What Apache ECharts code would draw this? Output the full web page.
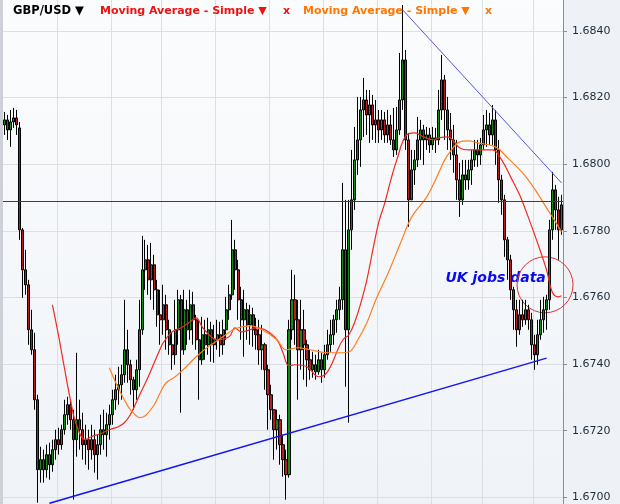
<!DOCTYPE html>
<html><head><meta charset="utf-8">
<script src="https://cdn.jsdelivr.net/npm/echarts@6/dist/echarts.min.js"></script>
<style>html,body{margin:0;padding:0;background:#eef1f5}#c{width:620px;height:504px}</style>
</head><body><div id="c"></div>
<script>
const opens = [1.68118,1.68133,1.68103,1.68127,1.68139,1.68109,1.67803,1.67683,1.67638,1.67503,
1.67443,1.67293,1.67083,1.67113,1.67083,1.67128,1.67098,1.67143,1.67173,1.67158,
1.67203,1.67248,1.67278,1.67233,1.67173,1.67233,1.67203,1.67158,1.67173,1.67143,
1.67173,1.67128,1.67158,1.67203,1.67188,1.67218,1.67248,1.67293,1.67323,1.67338,
1.67368,1.67443,1.67398,1.67353,1.67323,1.67383,1.67503,1.67683,1.67713,1.67653,
1.67698,1.67623,1.67548,1.67533,1.67578,1.67503,1.67458,1.67428,1.67503,1.67593,
1.67443,1.67563,1.67503,1.67578,1.67533,1.67473,1.67413,1.67488,1.67458,1.67503,
1.67458,1.67473,1.67488,1.67458,1.67503,1.67563,1.67608,1.67743,1.67683,1.67593,
1.67533,1.67563,1.67518,1.67548,1.67503,1.67488,1.67443,1.67458,1.67383,1.67308,
1.67263,1.67203,1.67233,1.67158,1.67113,1.67068,1.67503,1.67593,1.67533,1.67443,
1.67503,1.67458,1.67413,1.67383,1.67398,1.67377,1.67413,1.67383,1.67428,1.67458,
1.67488,1.67533,1.67563,1.67593,1.67743,1.67503,1.67803,1.67893,1.68013,1.68073,
1.68163,1.68193,1.68148,1.68178,1.68118,1.68133,1.68103,1.68133,1.68088,1.68118,
1.68073,1.68043,1.68103,1.68193,1.68313,1.68073,1.67893,1.67983,1.68013,1.68073,
1.68103,1.68073,1.68088,1.68058,1.68079,1.68073,1.68163,1.68253,1.68163,1.68103,
1.68073,1.68028,1.67953,1.67893,1.67968,1.67953,1.67983,1.68013,1.68043,1.68028,
1.68058,1.68103,1.68118,1.68088,1.68133,1.68043,1.67953,1.67893,1.67773,1.67713,
1.67623,1.67563,1.67503,1.67548,1.67533,1.67563,1.67533,1.67458,1.67428,1.67488,
1.67533,1.67563,1.67593,1.67803,1.67923,1.67863,1.67803];
const closes = [1.68133,1.68103,1.68127,1.68139,1.68118,1.67803,1.67683,1.67638,1.67503,1.67443,
1.67293,1.67083,1.67113,1.67083,1.67128,1.67098,1.67143,1.67173,1.67158,1.67203,
1.67248,1.67278,1.67233,1.67173,1.67233,1.67203,1.67158,1.67173,1.67143,1.67173,
1.67128,1.67158,1.67203,1.67188,1.67218,1.67248,1.67293,1.67323,1.67338,1.67368,
1.67443,1.67398,1.67353,1.67323,1.67383,1.67503,1.67683,1.67713,1.67653,1.67698,
1.67623,1.67548,1.67533,1.67578,1.67503,1.67458,1.67428,1.67503,1.67593,1.67443,
1.67563,1.67503,1.67578,1.67533,1.67473,1.67413,1.67488,1.67458,1.67503,1.67458,
1.67473,1.67488,1.67458,1.67503,1.67563,1.67608,1.67743,1.67683,1.67593,1.67533,
1.67563,1.67518,1.67548,1.67503,1.67488,1.67443,1.67458,1.67383,1.67308,1.67263,
1.67203,1.67233,1.67158,1.67113,1.67068,1.67503,1.67593,1.67533,1.67443,1.67503,
1.67458,1.67413,1.67383,1.67398,1.67377,1.67413,1.67383,1.67428,1.67458,1.67488,
1.67533,1.67563,1.67593,1.67743,1.67503,1.67803,1.67893,1.68013,1.68073,1.68163,
1.68193,1.68148,1.68178,1.68118,1.68133,1.68103,1.68133,1.68088,1.68118,1.68073,
1.68043,1.68103,1.68193,1.68313,1.68073,1.67893,1.67983,1.68013,1.68073,1.68103,
1.68073,1.68088,1.68058,1.68079,1.68073,1.68163,1.68253,1.68163,1.68103,1.68073,
1.68028,1.67953,1.67893,1.67968,1.67953,1.67983,1.68013,1.68043,1.68028,1.68058,
1.68103,1.68118,1.68088,1.68133,1.68043,1.67953,1.67893,1.67773,1.67713,1.67623,
1.67563,1.67503,1.67548,1.67533,1.67563,1.67533,1.67458,1.67428,1.67488,1.67533,
1.67563,1.67593,1.67803,1.67923,1.67863,1.67803,1.67878];
const lows = [1.68088,1.68073,1.68052,1.68109,1.68088,1.67773,1.67599,1.67608,1.67458,1.67428,
1.67263,1.66984,1.67044,1.67044,1.67059,1.67053,1.67077,1.67113,1.67128,1.67143,
1.67188,1.67218,1.67203,1.66993,1.67122,1.67143,1.67113,1.67098,1.67083,1.67113,
1.67074,1.67053,1.67128,1.67143,1.67122,1.67173,1.67218,1.67263,1.67278,1.67293,
1.67344,1.67344,1.67308,1.67263,1.67293,1.67332,1.67488,1.67623,1.67608,1.67593,
1.67563,1.67512,1.67458,1.67488,1.67443,1.67428,1.67383,1.67398,1.67458,1.67254,
1.67428,1.67458,1.67473,1.67458,1.67443,1.67293,1.67398,1.67413,1.67428,1.67407,
1.67404,1.67443,1.67422,1.67428,1.67473,1.67533,1.67593,1.67623,1.67533,1.67473,
1.67422,1.67473,1.67458,1.67452,1.67443,1.67398,1.67383,1.67323,1.67203,1.67233,
1.67113,1.67143,1.67098,1.67062,1.66993,1.67059,1.67473,1.67458,1.67293,1.67383,
1.67353,1.67332,1.67353,1.67359,1.67353,1.67368,1.67344,1.67359,1.67413,1.67437,
1.67458,1.67494,1.67533,1.67563,1.67332,1.67224,1.67743,1.67863,1.67968,1.67992,
1.68082,1.68088,1.68064,1.68073,1.68064,1.68064,1.68073,1.68064,1.68064,1.68058,
1.68022,1.68028,1.68088,1.68163,1.68043,1.67812,1.67893,1.67938,1.67992,1.68013,
1.67998,1.68043,1.68034,1.68043,1.68034,1.68058,1.68133,1.68073,1.68043,1.68013,
1.67974,1.67893,1.67842,1.67878,1.67923,1.67923,1.67938,1.67992,1.67992,1.67998,
1.68043,1.68052,1.68058,1.68058,1.67998,1.67884,1.67848,1.67722,1.67653,1.67593,
1.67503,1.67452,1.67488,1.67512,1.67518,1.67503,1.67413,1.67383,1.67398,1.67473,
1.67494,1.67503,1.67563,1.67773,1.67803,1.67713,1.67788];
const highs = [1.68157,1.68148,1.68163,1.68169,1.68163,1.68127,1.67809,1.67743,1.67653,1.67563,
1.67494,1.67308,1.67152,1.67143,1.67158,1.67164,1.67173,1.67203,1.67209,1.67218,
1.67293,1.67302,1.67293,1.67263,1.67434,1.67293,1.67254,1.67218,1.67203,1.67218,
1.67203,1.67188,1.67248,1.67263,1.67254,1.67278,1.67323,1.67368,1.67392,1.67398,
1.67593,1.67503,1.67413,1.67362,1.67413,1.67593,1.67785,1.67773,1.67758,1.67764,
1.67728,1.67653,1.67623,1.67638,1.67608,1.67533,1.67494,1.67593,1.67623,1.67608,
1.67623,1.67593,1.67623,1.67617,1.67548,1.67533,1.67542,1.67533,1.67539,1.67527,
1.67518,1.67533,1.67527,1.67533,1.67602,1.67638,1.67833,1.67773,1.67713,1.67632,
1.67623,1.67584,1.67578,1.67569,1.67539,1.67533,1.67518,1.67464,1.67398,1.67338,
1.67263,1.67263,1.67248,1.67188,1.67143,1.67533,1.67683,1.67668,1.67593,1.67593,
1.67563,1.67473,1.67443,1.67437,1.67428,1.67443,1.67434,1.67458,1.67503,1.67533,
1.67548,1.67593,1.67632,1.67944,1.67893,1.67893,1.68043,1.68112,1.68202,1.68202,
1.68259,1.68223,1.68223,1.68208,1.68193,1.68163,1.68163,1.68157,1.68163,1.68148,
1.68169,1.68172,1.68334,1.68478,1.68343,1.68094,1.68043,1.68043,1.68142,1.68133,
1.68118,1.68112,1.68109,1.68112,1.68109,1.68223,1.68328,1.68268,1.68202,1.68154,
1.68118,1.68073,1.68004,1.68013,1.68013,1.68013,1.68043,1.68073,1.68073,1.68079,
1.68148,1.68163,1.68154,1.68178,1.68163,1.68073,1.67968,1.67908,1.67782,1.67728,
1.67632,1.67593,1.67593,1.67593,1.67593,1.67578,1.67554,1.67488,1.67533,1.67593,
1.67602,1.67608,1.67833,1.67977,1.67938,1.67902,1.67908];

const yTicks = [1.6700,1.6720,1.6740,1.6760,1.6780,1.6800,1.6820,1.6840];
const maRed = [[16,1.67578],[18,1.67488],[20,1.67389],[22,1.67293],[24,1.67218],[27,1.67173],[29,1.67182],[32,1.67191],[35,1.67203],[38,1.67212],[40,1.67224],[42,1.67248],[45,1.67305],[48,1.67362],[52,1.67446],[53,1.67464],[56,1.67497],[59,1.67509],[62,1.67527],[64,1.67539],[66,1.67512],[69,1.67482],[71,1.67473],[75,1.67482],[77,1.67509],[79,1.67497],[82,1.67503],[84,1.67509],[87,1.67503],[91,1.67473],[93,1.67434],[95,1.67395],[97,1.67398],[101,1.67392],[105,1.67362],[107,1.67368],[109,1.67395],[111,1.67437],[113,1.67473],[115,1.67488],[117,1.67527],[119,1.67584],[121,1.67653],[123,1.67743],[125,1.67827],[127,1.67884],[129,1.67953],[131,1.68013],[134,1.68085],[137,1.68094],[140,1.68082],[143,1.68073],[145,1.68079],[148,1.68082],[152,1.68049],[155,1.68043],[160,1.68043],[163,1.68043],[166,1.68013],[169,1.67962],[172,1.67908],[174,1.67863],[178,1.67764],[181,1.67683],[183,1.67614],[185,1.67602],[186,1.67605]];
const maOrange = [[35,1.67389],[37,1.67347],[38,1.67329],[40,1.67293],[42,1.67263],[44,1.67245],[45,1.67239],[47,1.67245],[50,1.67278],[52,1.67314],[54,1.67344],[57,1.67362],[60,1.67386],[62,1.67404],[64,1.67422],[68,1.67452],[73,1.67482],[77,1.67506],[82,1.67515],[86,1.67503],[91,1.67473],[94,1.67443],[98,1.67449],[102,1.67443],[108,1.67434],[112,1.67434],[115,1.67437],[118,1.67473],[121,1.67524],[124,1.67593],[128,1.67671],[132,1.67758],[136,1.67842],[141,1.67902],[145,1.67974],[147,1.68013],[149,1.68040],[152,1.68067],[155,1.68070],[158,1.68064],[164,1.68052],[168,1.68019],[173,1.67974],[177,1.67926],[181,1.67869],[184,1.67827],[186,1.67797]];
const hLevel = 1.67888;
const upperTrend = [[133,1.68463],[186,1.67944]];
const lowerTrend = [[15,1.66982],[181,1.67418]];
const vGridIdx = [18,36,53,71,89,107,125,143,160,177];
const noteText = 'UK jobs data';
const notePos = [164,1.67659];
const circlePos = [180,1.67638];

const categories = opens.map((_, i) => String(i));
const candleData = opens.map((o, i) => [o, closes[i], lows[i], highs[i]]);

const chart = echarts.init(document.getElementById('c'), null, {renderer:'canvas'});
const FONT = '"DejaVu Sans", Verdana, sans-serif';
chart.setOption({
  animation: false,
  backgroundColor: '#eef1f5',
  grid: {left: 3, right: 57, top: 0, bottom: 0, show: true, borderWidth: 0,
    backgroundColor: {type:'linear', x:0, y:0, x2:0, y2:1, colorStops:[{offset:0,color:'#fbfcfd'},{offset:1,color:'#eff3f8'}]}},
  xAxis: {type:'category', data: categories, boundaryGap: true,
    axisLine:{show:false}, axisTick:{show:false}, axisLabel:{show:false},
    splitLine:{show:true, interval:(idx)=>vGridIdx.includes(idx), lineStyle:{color:'#dcdfe4', width:1}}},
  yAxis: {type:'value', position:'right', min:1.6698, max:1.68493, scale:true,
    axisLine:{show:true, lineStyle:{color:'#8a8f96'}},
    axisTick:{show:true, length:4, customValues: yTicks, lineStyle:{color:'#8a8f96'}},
    axisLabel:{show:true, customValues: yTicks, margin:9, color:'#1c2b3c', fontSize:11, fontFamily:FONT,
      formatter:(v)=>v.toFixed(4)},
    splitLine:{show:true, lineStyle:{color:'#dcdfe4', width:1}}},
  series: [
    {type:'candlestick', data: candleData, barWidth: 2.6, z: 3,
      itemStyle:{color:'#138a13', color0:'#b41e1e', borderColor:'#000', borderColor0:'#000', borderWidth:1},
      markLine:{silent:true, symbol:'none', precision:5, animation:false, label:{show:false},
        lineStyle:{color:'#d40000', width:1, type:'solid'}, data:[{yAxis:hLevel}]}},
    {type:'line', data: maRed, smooth:0.4, symbol:'none', z:4, lineStyle:{color:'#f02a1e', width:1.2}},
    {type:'line', data: maOrange, smooth:0.4, symbol:'none', z:4, lineStyle:{color:'#ff7f1e', width:1.2}},
    {type:'line', data: upperTrend, symbol:'none', z:5, lineStyle:{color:'#5555dd', width:1}},
    {type:'line', data: lowerTrend, symbol:'none', z:5, lineStyle:{color:'#1515f0', width:1.5}}
  ]
});

const pN = chart.convertToPixel({gridIndex:0}, notePos);
const pC = chart.convertToPixel({gridIndex:0}, circlePos);
const legendFont = 'bold 11px ' + FONT;
chart.setOption({
  graphic: [
    {type:'text', z:1, style:{text:noteText, x:pN[0], y:pN[1] + 1, align:'center', verticalAlign:'middle',
      fill:'#0a0af0', font:'italic bold 14px ' + FONT}},
    {type:'circle', z:1, shape:{cx:pC[0] + 1.5, cy:pC[1], r:28}, style:{fill:'none', stroke:'#e03030', lineWidth:1}},
    {type:'rect', z:100, shape:{x:0, y:0, width:3, height:504}, style:{fill:'#cdd1d7'}},
    {type:'text', z:100, style:{text:'GBP/USD \u25BC', x:13, y:11, verticalAlign:'middle', fill:'#000', font:'bold 11.5px ' + FONT}},
    {type:'text', z:100, style:{text:'Moving Average - Simple \u25BC', x:100, y:11, verticalAlign:'middle', fill:'#ee1111', font:legendFont}},
    {type:'text', z:100, style:{text:'x', x:283, y:11, verticalAlign:'middle', fill:'#ee1111', font:legendFont}},
    {type:'text', z:100, style:{text:'Moving Average - Simple \u25BC', x:303, y:11, verticalAlign:'middle', fill:'#ff7700', font:legendFont}},
    {type:'text', z:100, style:{text:'x', x:485, y:11, verticalAlign:'middle', fill:'#ff7700', font:legendFont}}
  ]
});
</script></body></html>
